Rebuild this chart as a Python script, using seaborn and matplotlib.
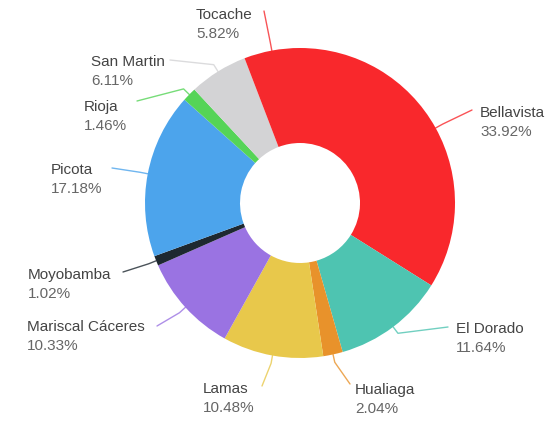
import matplotlib
matplotlib.use("Agg")
import matplotlib.pyplot as plt
import numpy as np
import seaborn as sns

sns.set_style("white")
plt.rcParams['font.family'] = ['Liberation Sans', 'DejaVu Sans']

# ---- data ----
names = ["Bellavista", "El Dorado", "Hualiaga", "Lamas", "Mariscal Cáceres",
         "Moyobamba", "Picota", "Rioja", "San Martin", "Tocache"]
shares = [33.92, 11.64, 2.04, 10.48, 10.33, 1.02, 17.18, 1.46, 6.11, 5.82]
pct_labels = ["33.92%", "11.64%", "2.04%", "10.48%", "10.33%",
              "1.02%", "17.18%", "1.46%", "6.11%", "5.82%"]
colors = ["#F9282C", "#4EC4B1", "#E8922B", "#E8C84B", "#9A73E2",
          "#1E2830", "#4CA4EC", "#55D457", "#D3D3D5", "#F6292D"]

# ---- layout (pixel coords, y down) ----
W, H = 552, 421
cx, cy, R, hole = 300, 203, 155, 60
text_pos = [(480, 113), (456, 329), (355, 390), (203, 389), (27, 327),
            (28, 275), (51, 170), (84, 107), (91, 62), (196, 15)]
line_end = [(472, 110), (448, 327), (350, 384), (262, 386), (157, 326),
            (123, 272), (112, 168), (137, 101), (170, 60), (264, 11)]

fig = plt.figure(figsize=(W / 100, H / 100), dpi=100)
ax = fig.add_axes([0, 0, 1, 1])

wedges, _ = ax.pie(shares, colors=colors, startangle=90, counterclock=False,
                   center=(cx, H - cy), radius=R, frame=True,
                   wedgeprops=dict(width=R - hole, linewidth=0))
ax.set_xlim(0, W)
ax.set_ylim(0, H)
ax.set_axis_off()

for w, nm, pl, c, (tx, ty), (lx, ly) in zip(wedges, names, pct_labels, colors,
                                            text_pos, line_end):
    ang = np.deg2rad((w.theta1 + w.theta2) / 2)
    ax0 = cx + R * np.cos(ang)
    ay0 = (H - cy) + R * np.sin(ang)
    ex = cx + (R + 8) * np.cos(ang)
    ey = (H - cy) + (R + 8) * np.sin(ang)
    ax.plot([ax0, ex, lx], [ay0, ey, H - ly], color=c, lw=1.0,
            solid_capstyle="round", alpha=0.8)
    ax.text(tx, H - ty, nm, fontsize=11, color="#444444", va="center", ha="left")
    ax.text(tx, H - ty - 19, pl, fontsize=11, color="#666666", va="center", ha="left")

fig.savefig("out.png", dpi=100, facecolor="white")
